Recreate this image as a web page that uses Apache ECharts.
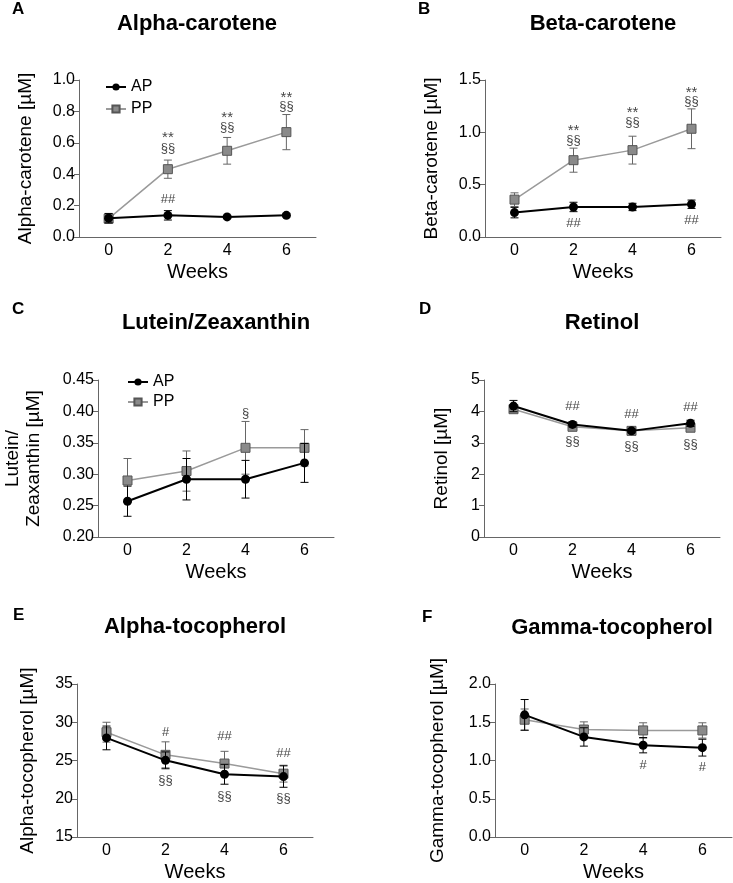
<!DOCTYPE html>
<html>
<head>
<meta charset="utf-8">
<script src="https://cdn.jsdelivr.net/npm/echarts@6/dist/echarts.min.js"></script>
<style>
html,body{margin:0;padding:0;background:#fff;}
#c{width:733px;height:883px;}
</style>
</head>
<body>
<div id="c"></div>
<script>
// ---- data ----
const weeks = ['0', '2', '4', '6'];
const groups = ['AP', 'PP'];

const alphaCaroteneAP = [0.120, 0.138, 0.128, 0.138];
const alphaCaroteneAPErr = [0.030, 0.030, 0.010, 0.010];
const alphaCarotenePP = [0.117, 0.432, 0.549, 0.668];
const alphaCarotenePPErr = [0.030, 0.058, 0.085, 0.112];
const alphaCaroteneMarks = [[1, 0.630, '**'], [1, 0.564, '§§'], [1, 0.240, '##'], [2, 0.758, '**'], [2, 0.698, '§§'], [3, 0.886, '**'], [3, 0.830, '§§']];

const betaCaroteneAP = [0.233, 0.287, 0.287, 0.313];
const betaCaroteneAPErr = [0.050, 0.045, 0.035, 0.040];
const betaCarotenePP = [0.357, 0.734, 0.830, 1.034];
const betaCarotenePPErr = [0.065, 0.115, 0.133, 0.190];
const betaCaroteneMarks = [[1, 1.010, '**'], [1, 0.926, '§§'], [1, 0.134, '##'], [2, 1.186, '**'], [2, 1.095, '§§'], [3, 1.377, '**'], [3, 1.299, '§§'], [3, 0.160, '##']];

const luteinAP = [0.257, 0.292, 0.292, 0.318];
const luteinAPErr = [0.024, 0.033, 0.030, 0.031];
const luteinPP = [0.290, 0.305, 0.342, 0.342];
const luteinPPErr = [0.035, 0.032, 0.042, 0.029];
const luteinMarks = [[2, 0.397, '§']];

const retinolAP = [4.17, 3.585, 3.38, 3.62];
const retinolAPErr = [0.18, 0.08, 0.06, 0.10];
const retinolPP = [4.07, 3.51, 3.38, 3.48];
const retinolPPErr = [0.10, 0.08, 0.06, 0.08];
const retinolMarks = [[1, 4.15, '##'], [1, 3.03, '§§'], [2, 3.91, '##'], [2, 2.87, '§§'], [3, 4.13, '##'], [3, 2.96, '§§']];

const alphaTocAP = [27.95, 25.02, 23.2, 22.9];
const alphaTocAPErr = [1.55, 1.1, 1.3, 1.4];
const alphaTocPP = [28.7, 25.74, 24.6, 23.28];
const alphaTocPPErr = [1.3, 1.7, 1.6, 1.1];
const alphaTocMarks = [[1, 28.7, '#'], [1, 22.43, '§§'], [2, 28.2, '##'], [2, 20.35, '§§'], [3, 25.87, '##'], [3, 20.0, '§§']];

const gammaTocAP = [1.597, 1.308, 1.200, 1.168];
const gammaTocAPErr = [0.20, 0.12, 0.10, 0.11];
const gammaTocPP = [1.533, 1.405, 1.393, 1.393];
const gammaTocPPErr = [0.14, 0.10, 0.10, 0.10];
const gammaTocMarks = [[2, 0.938, '#'], [3, 0.913, '#']];

// ---- layout ----
const FONT = "'Liberation Sans', Arial, sans-serif";
const panels = [
  {letter: 'A', title: 'Alpha-carotene', yName: 'Alpha-carotene [µM]', ap: alphaCaroteneAP, apE: alphaCaroteneAPErr, pp: alphaCarotenePP, ppE: alphaCarotenePPErr, marks: alphaCaroteneMarks,
   min: 0, max: 1.0, interval: 0.2, dec: 1, grid: {left: 79, top: 80, width: 237, height: 157}, nameGap: 43, letterPos: [12, 1], titlePos: [197, 13]},
  {letter: 'B', title: 'Beta-carotene', yName: 'Beta-carotene [µM]', ap: betaCaroteneAP, apE: betaCaroteneAPErr, pp: betaCarotenePP, ppE: betaCarotenePPErr, marks: betaCaroteneMarks,
   min: 0, max: 1.5, interval: 0.5, dec: 1, grid: {left: 485, top: 80, width: 236, height: 157}, nameGap: 43, letterPos: [418, 1], titlePos: [603, 13]},
  {letter: 'C', title: 'Lutein/Zeaxanthin', yName: 'Lutein/\nZeaxanthin [µM]', ap: luteinAP, apE: luteinAPErr, pp: luteinPP, ppE: luteinPPErr, marks: luteinMarks,
   min: 0.20, max: 0.45, interval: 0.05, dec: 2, grid: {left: 98, top: 380, width: 236, height: 157}, nameGap: 54, letterPos: [12, 301], titlePos: [216, 312]},
  {letter: 'D', title: 'Retinol', yName: 'Retinol [µM]', ap: retinolAP, apE: retinolAPErr, pp: retinolPP, ppE: retinolPPErr, marks: retinolMarks,
   min: 0, max: 5, interval: 1, dec: 0, grid: {left: 484, top: 380, width: 236, height: 157}, nameGap: 32, letterPos: [419, 301], titlePos: [602, 312]},
  {letter: 'E', title: 'Alpha-tocopherol', yName: 'Alpha-tocopherol [µM]', ap: alphaTocAP, apE: alphaTocAPErr, pp: alphaTocPP, ppE: alphaTocPPErr, marks: alphaTocMarks,
   min: 15, max: 35, interval: 5, dec: 0, grid: {left: 77, top: 684, width: 236, height: 157}, nameGap: 39, letterPos: [13, 607], titlePos: [195, 616]},
  {letter: 'F', title: 'Gamma-tocopherol', yName: 'Gamma-tocopherol [µM]', ap: gammaTocAP, apE: gammaTocAPErr, pp: gammaTocPP, ppE: gammaTocPPErr, marks: gammaTocMarks,
   min: 0, max: 2.0, interval: 0.5, dec: 1, grid: {left: 495, top: 684, width: 237, height: 157}, nameGap: 47, letterPos: [422, 609], titlePos: [612, 617]}
];

const AXIS_COLOR = '#666';
const PP_LINE = '#9a9a9a';
const PP_FILL = '#8a8a8a';

function errSeries(idx, vals, errs, color, z) {
  return {
    type: 'custom', xAxisIndex: idx, yAxisIndex: idx, z: z, silent: true,
    data: vals.map((v, i) => [i, v, errs[i]]),
    encode: {x: 0, y: 1},
    renderItem: function (params, api) {
      const x = api.value(0), y = api.value(1), e = api.value(2);
      const t = api.coord([x, y + e]);
      const b = api.coord([x, y - e]);
      const w = 4;
      const st = {stroke: color, lineWidth: 1};
      return {type: 'group', children: [
        {type: 'line', shape: {x1: t[0], y1: t[1], x2: b[0], y2: b[1]}, style: st},
        {type: 'line', shape: {x1: t[0] - w, y1: t[1], x2: t[0] + w, y2: t[1]}, style: st},
        {type: 'line', shape: {x1: b[0] - w, y1: b[1], x2: b[0] + w, y2: b[1]}, style: st}
      ]};
    }
  };
}

const option = {
  animation: false,
  backgroundColor: '#fff',
  textStyle: {fontFamily: FONT},
  title: [],
  legend: [],
  grid: [],
  xAxis: [],
  yAxis: [],
  series: []
};

panels.forEach((p, idx) => {
  option.title.push({
    text: p.title, left: p.titlePos[0], top: p.titlePos[1], textAlign: 'center', padding: 0,
    textStyle: {fontFamily: FONT, fontWeight: 'bold', fontSize: 22, color: '#000'}
  });
  option.title.push({
    text: p.letter, left: p.letterPos[0], top: p.letterPos[1], padding: 0,
    textStyle: {fontFamily: FONT, fontWeight: 'bold', fontSize: 17, color: '#000'}
  });
  option.grid.push(Object.assign({containLabel: false}, p.grid));
  option.xAxis.push({
    type: 'category', gridIndex: idx, data: weeks, boundaryGap: true,
    name: 'Weeks', nameLocation: 'middle', nameGap: 25,
    nameTextStyle: {fontFamily: FONT, fontSize: 20, color: '#000'},
    axisLine: {lineStyle: {color: AXIS_COLOR, width: 1}},
    axisTick: {alignWithLabel: true, length: 5, lineStyle: {color: AXIS_COLOR}},
    axisLabel: {fontFamily: FONT, fontSize: 16, color: '#000', margin: 6},
    splitLine: {show: false}
  });
  option.yAxis.push({
    type: 'value', gridIndex: idx, min: p.min, max: p.max, interval: p.interval,
    name: p.yName, nameLocation: 'middle', nameGap: p.nameGap, nameRotate: 90,
    nameTextStyle: {fontFamily: FONT, fontSize: 19, color: '#000', lineHeight: 21},
    axisLine: {show: true, lineStyle: {color: AXIS_COLOR, width: 1}},
    axisTick: {show: true, length: 5, lineStyle: {color: AXIS_COLOR}},
    axisLabel: {fontFamily: FONT, fontSize: 16, color: '#000', margin: 4,
      formatter: v => Number(v).toFixed(p.dec)},
    splitLine: {show: false}
  });
  option.series.push(errSeries(idx, p.pp, p.ppE, '#666', 2));
  option.series.push({
    name: 'PP', type: 'line', xAxisIndex: idx, yAxisIndex: idx, data: p.pp, z: 3,
    symbol: 'rect', symbolSize: 9,
    lineStyle: {color: PP_LINE, width: 1.5},
    itemStyle: {color: PP_FILL, borderColor: '#555', borderWidth: 1}
  });
  option.series.push(errSeries(idx, p.ap, p.apE, '#000', 4));
  option.series.push({
    name: 'AP', type: 'line', xAxisIndex: idx, yAxisIndex: idx, data: p.ap, z: 5,
    symbol: 'circle', symbolSize: 9,
    lineStyle: {color: '#000', width: 2},
    itemStyle: {color: '#000'}
  });
  option.series.push({
    type: 'scatter', xAxisIndex: idx, yAxisIndex: idx, z: 6, silent: true,
    symbolSize: 1, itemStyle: {color: 'rgba(0,0,0,0)'},
    data: p.marks.map(m => ({value: [m[0], m[1]], label: {formatter: m[2], fontSize: m[2] === '**' ? 15 : 13}})),
    label: {show: true, position: 'inside', fontFamily: FONT, fontSize: 13, color: '#111',
      textBorderWidth: 0, textBorderColor: 'transparent'}
  });
});

option.legend.push({
  orient: 'vertical', left: 100, top: 74, itemWidth: 20, itemHeight: 9, itemGap: 6,
  data: ['AP', 'PP'], selectedMode: false,
  textStyle: {fontFamily: FONT, fontSize: 16, color: '#000'}
});
option.legend.push({
  orient: 'vertical', left: 122, top: 369, itemWidth: 20, itemHeight: 9, itemGap: 4,
  data: ['AP', 'PP'], selectedMode: false,
  textStyle: {fontFamily: FONT, fontSize: 16, color: '#000'}
});

const chart = echarts.init(document.getElementById('c'), null, {renderer: 'canvas'});
chart.setOption(option);
</script>
</body>
</html>
